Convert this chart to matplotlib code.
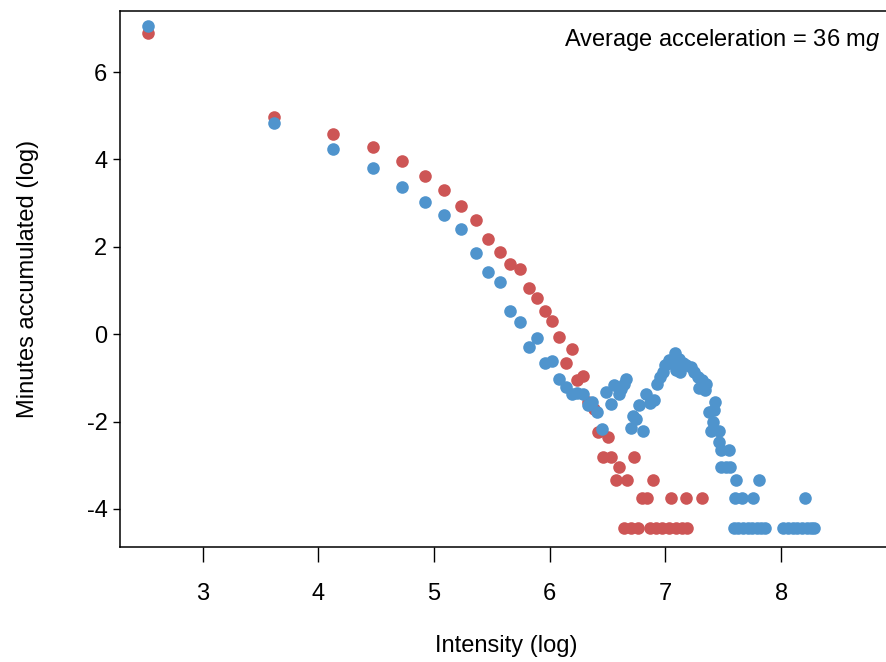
import matplotlib
matplotlib.use("Agg")
import matplotlib.pyplot as plt

plt.rcParams['font.family'] = ['Liberation Sans', 'DejaVu Sans']
plt.rcParams['mathtext.fontset'] = 'custom'
plt.rcParams['mathtext.rm'] = 'Liberation Sans'
plt.rcParams['mathtext.it'] = 'Liberation Sans:italic'
plt.rcParams['axes.unicode_minus'] = False

# red series (log intensity, log minutes)
red_x = [2.53, 3.62, 4.13, 4.47, 4.72, 4.92, 5.09, 5.23, 5.36, 5.47,
         5.57, 5.66, 5.74, 5.82, 5.89, 5.96, 6.02, 6.08, 6.14, 6.19,
         6.24, 6.29, 6.33, 6.38, 6.42, 6.46, 6.50, 6.53, 6.57, 6.60,
         6.64, 6.67, 6.70, 6.73, 6.76, 6.80, 6.84, 6.87, 6.89, 6.92,
         6.97, 7.03, 7.05, 7.09, 7.14, 7.18, 7.19, 7.32]
red_y = [6.90, 4.97, 4.57, 4.29, 3.97, 3.62, 3.30, 2.93, 2.61, 2.17,
         1.88, 1.60, 1.49, 1.06, 0.82, 0.52, 0.31, -0.06, -0.65, -0.34,
         -1.05, -0.96, -1.55, -1.72, -2.24, -2.82, -2.35, -2.82, -3.34, -3.05,
         -4.44, -3.34, -4.44, -2.82, -4.44, -3.75, -3.75, -4.44, -3.34, -4.44,
         -4.44, -4.44, -3.75, -4.44, -4.44, -3.75, -4.44, -3.75]

# blue series
blue_x = [2.53, 3.62, 4.13, 4.47, 4.72, 4.92, 5.09, 5.23, 5.36, 5.47,
          5.57, 5.66, 5.74, 5.82, 5.89, 5.96, 6.02, 6.08, 6.14, 6.19,
          6.24, 6.29, 6.33, 6.37, 6.41, 6.45, 6.49, 6.53, 6.56, 6.60,
          6.62, 6.64, 6.66, 6.70, 6.72, 6.75, 6.77, 6.81, 6.83, 6.87,
          6.90, 6.93, 6.95, 6.98, 7.00, 7.03, 7.05, 7.08, 7.09, 7.12,
          7.13, 7.15, 7.18, 7.22, 7.25, 7.28, 7.29, 7.32, 7.34, 7.35,
          7.38, 7.39, 7.41, 7.42, 7.43, 7.46, 7.46, 7.48, 7.48, 7.52,
          7.55, 7.56, 7.60, 7.61, 7.66, 7.76, 7.81, 8.21,
          7.59, 7.63, 7.67, 7.71, 7.75, 7.79, 7.83, 7.86,
          8.02, 8.06, 8.10, 8.14, 8.18, 8.22, 8.26, 8.28]
blue_y = [7.05, 4.84, 4.24, 3.80, 3.37, 3.02, 2.72, 2.41, 1.86, 1.43,
          1.20, 0.53, 0.27, -0.29, -0.08, -0.67, -0.62, -1.02, -1.20, -1.36,
          -1.34, -1.38, -1.62, -1.55, -1.78, -2.17, -1.33, -1.60, -1.17, -1.38,
          -1.26, -1.15, -1.03, -2.14, -1.87, -1.95, -1.62, -2.22, -1.37, -1.57,
          -1.51, -1.13, -0.98, -0.86, -0.71, -0.59, -0.67, -0.44, -0.82, -0.56,
          -0.86, -0.67, -0.71, -0.75, -0.86, -0.98, -1.24, -1.05, -1.28, -1.13,
          -1.78, -2.22, -2.01, -1.74, -1.55, -2.22, -2.46, -2.64, -3.05, -3.05,
          -2.64, -3.05, -3.74, -3.34, -3.74, -3.74, -3.34, -3.74,
          -4.44, -4.44, -4.44, -4.44, -4.44, -4.44, -4.44, -4.44,
          -4.44, -4.44, -4.44, -4.44, -4.44, -4.44, -4.44, -4.44]

x_ticks = [3, 4, 5, 6, 7, 8]
y_ticks = [-4, -2, 0, 2, 4, 6]
note = 'Average acceleration = 36 m$\\mathit{g}$'

fig = plt.figure(figsize=(8.87, 6.62), dpi=100)
ax = fig.add_axes([120 / 887, 115 / 662, 772 / 887, 536 / 662])

ax.scatter(red_x, red_y, s=82, color='#CD5555', linewidths=0, zorder=2)
ax.scatter(blue_x, blue_y, s=82, color='#4F94CD', linewidths=0, zorder=3)

ax.set_xlim(2.287, 2.287 + 772 / 115.72)
ax.set_ylim(-4.87, 7.396)
ax.set_xticks(x_ticks)
ax.set_yticks(y_ticks)
ax.tick_params(axis='x', labelsize=17, length=10.6, width=1, pad=15)
ax.tick_params(axis='y', labelsize=17, length=5, width=1, pad=4)
for sp in ax.spines.values():
    sp.set_linewidth(1.1)

ax.set_xlabel('Intensity (log)', fontsize=17, labelpad=22)
ax.set_ylabel('Minutes accumulated (log)', fontsize=17, labelpad=34)

fig.text(880 / 887, 1 - 40 / 662, note, fontsize=17, ha='right', va='center')

fig.savefig('out.png', dpi=100)
